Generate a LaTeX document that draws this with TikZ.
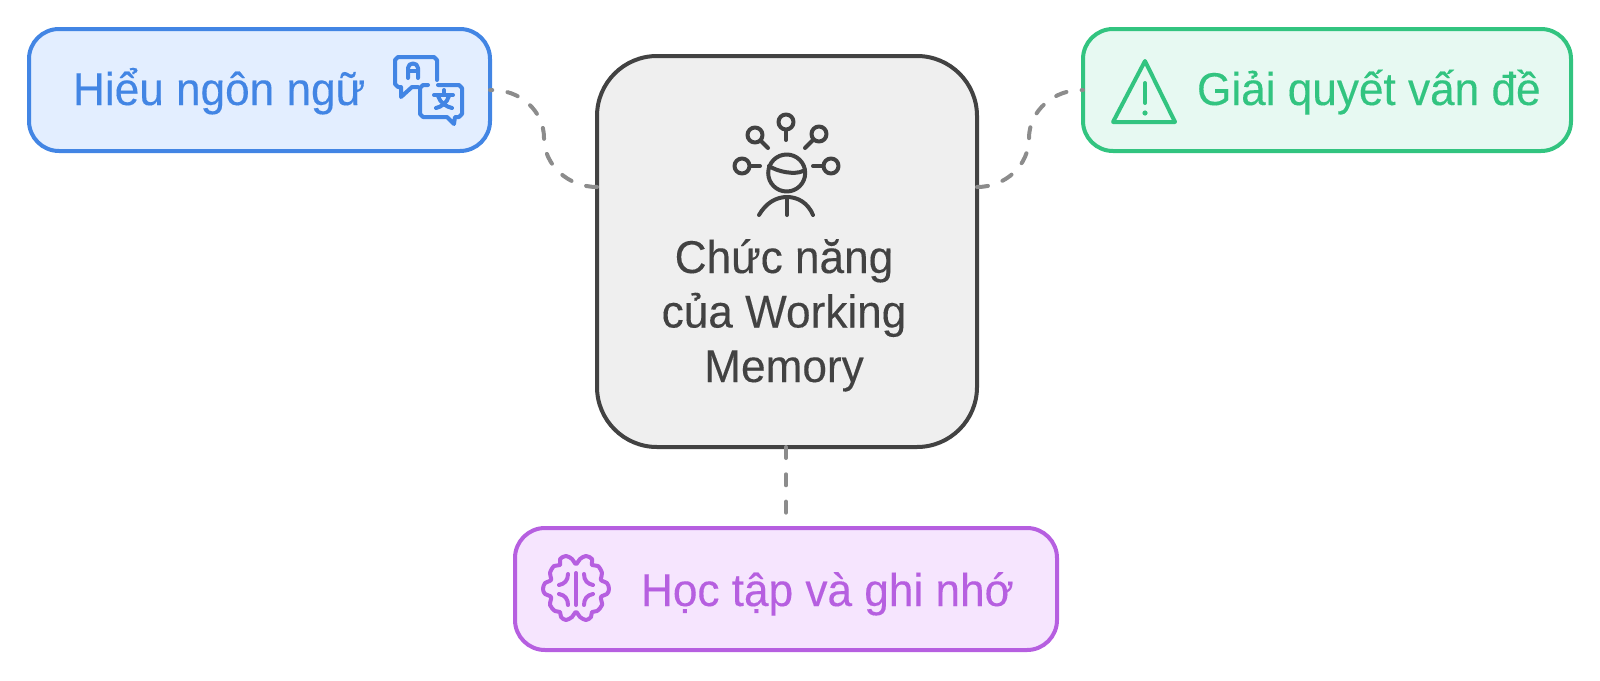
\documentclass[tikz,border=0pt]{standalone}
\usepackage{fontspec}
\setmainfont[FakeStretch=0.96,FakeBold=0.2]{Liberation Sans}
\definecolor{cblue}{HTML}{4285E4}\definecolor{fblue}{HTML}{E3EEFF}
\definecolor{cgreen}{HTML}{32C480}\definecolor{fgreen}{HTML}{E7F9F2}
\definecolor{cpurple}{HTML}{B65FE0}\definecolor{fpurple}{HTML}{F6E5FE}
\definecolor{cdark}{HTML}{424242}\definecolor{fdark}{HTML}{EFEFEF}
\definecolor{cline}{HTML}{8C8C8C}
\tikzset{
 boxnode/.style={draw,line width=4pt,rounded corners=30pt,inner sep=0,outer sep=0},
 label/.style={inner sep=0,outer sep=0,anchor=base west,font=\fontsize{46}{54}\selectfont},
 link/.style={draw=cline,line width=4pt,line cap=round,dash pattern=on 11pt off 16.3pt},
 curvelink/.style={link,dash pattern=on 11pt off 15.4pt},
 ico/.style={line width=4pt,line cap=round,line join=round}
}
\begin{document}
\begin{tikzpicture}[x=1pt,y=-1pt]
\useasboundingbox (0,0) rectangle (1600,680);
\node[boxnode,draw=cblue,fill=fblue,minimum width=461pt,minimum height=122pt] (blue) at (259.5,90) {};
\node[boxnode,draw=cgreen,fill=fgreen,minimum width=488pt,minimum height=122pt] (green) at (1327,90) {};
\node[boxnode,draw=cpurple,fill=fpurple,minimum width=542pt,minimum height=122pt] (purple) at (786,589) {};
\node[boxnode,draw=cdark,fill=fdark,rounded corners=60pt,minimum width=380pt,minimum height=391pt] (core) at (787,251.5) {};
\coordinate (coreL) at (597,187);
\coordinate (coreR) at (977,187);
% connectors (drawn from the central box outwards)
\draw[curvelink] (coreL) .. controls (568,187) and (544,165) .. (544,138) .. controls (544,111) and (520,89) .. (blue.east);
\draw[curvelink] (coreR) .. controls (1006,187) and (1029,165) .. (1029,138) .. controls (1029,111) and (1054,89) .. (green.west);
\draw[link] (core.south -| purple.north) -- (purple.north);
% labels
\node[label,text=cblue] (tblue) at (73,105) {Hiểu ngôn ngữ};
\node[label,text=cgreen] (tgreen) at (1197,105) {Giải quyết vấn đề};
\node[label,text=cpurple] (tpurple) at (641,606) {Học tập và ghi nhớ};
\node[inner sep=0,outer sep=0,text=cdark,align=center,anchor=base,font=\fontsize{46}{54.5}\selectfont] (tcore) at (784,382) {Chức năng\\của Working\\Memory};
% core icon
\begin{scope}[draw=cdark,ico]
\draw (786.7,173) circle (18.5);
\draw (769,166) .. controls (778,172) and (795,175) .. (803,171);
\draw (759,215) .. controls (766,203) and (776,197) .. (787,197) .. controls (798,197) and (808,203) .. (813,215);
\draw (787,197) -- (787,215);
\draw (786,122) circle (7.5); \draw (786,130) -- (786,140);
\draw (755,135) circle (7.5); \draw (761,141) -- (768,148);
\draw (819,134) circle (7.5); \draw (813,140) -- (805,148);
\draw (742,166) circle (7.5); \draw (750,166) -- (760,166);
\draw (831,166) circle (7.5); \draw (823,166) -- (813,166);
\end{scope}
% translate icon
\begin{scope}[draw=cblue,ico]
\draw (437,80) -- (437,60) -- ++(-3,-3) -- (398,57) -- ++(-3,3) -- (395,84) -- ++(3,3) -- (401,87) -- (401,97) -- (412,87) -- (418,87);
\draw (428,85) -- (423,85) -- ++(-3,3) -- (420,114) -- ++(3,3) -- (447,117) -- (454,124) -- (455,117) -- (459,117) -- ++(3,-3) -- (462,88) -- ++(-3,-3) -- (438,85);
\draw (408,78) -- (408,68) .. controls (408,62) and (418,62) .. (418,68) -- (418,78);
\draw (408,71) -- (418,71);
\draw (434,95) -- (453,95); \draw (444,90) -- (444,95);
\draw (449,96) .. controls (447,103) and (441,107) .. (436,108);
\draw (438,96) .. controls (440,103) and (447,107) .. (452,108);
\end{scope}
% warning icon
\begin{scope}[draw=cgreen,ico]
\draw (1145,61) -- (1175,122) -- (1113,122) -- cycle;
\draw (1145,83) -- (1145,103);
\fill[cgreen] (1145,113) circle (2.6);
\end{scope}
% brain icon
\begin{scope}[shift={(576,588)},draw=cpurple,ico]
\draw plot[smooth cycle,tension=0.55] coordinates {(0,-24)(4,-29)(10,-32)(16,-29)(16,-23)(22,-22)(26,-15)(25,-8)(31,-5)(33,1)(31,6)(25,9)(26,17)(21,23)(16,24)(15,29)(10,32)(4,29)(0,24)(-4,29)(-10,32)(-15,29)(-16,24)(-21,23)(-26,17)(-25,9)(-31,6)(-33,1)(-31,-5)(-25,-8)(-26,-15)(-22,-22)(-16,-23)(-16,-29)(-10,-32)(-4,-29)};
\draw (0,-15) -- (0,17);
\draw (8,-14) .. controls (8,-7) and (12,-4) .. (17,-3);
\draw (-8,-14) .. controls (-8,-7) and (-12,-4) .. (-17,-3);
\draw (8,17) .. controls (8,11) and (11,7) .. (17,6);
\draw (-8,17) .. controls (-8,11) and (-11,7) .. (-17,6);
\end{scope}
\end{tikzpicture}
\end{document}
